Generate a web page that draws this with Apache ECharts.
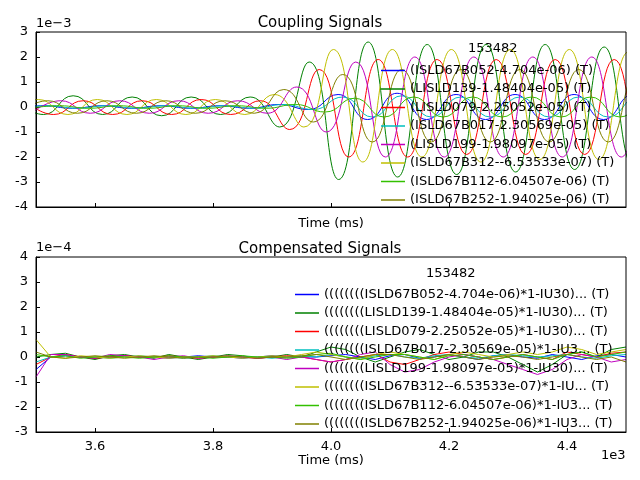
<!DOCTYPE html>
<html><head><meta charset="utf-8">
<script src="https://cdn.jsdelivr.net/npm/echarts@6/dist/echarts.min.js"></script>
<style>body{margin:0;background:#fff}#c{width:640px;height:480px}</style>
</head><body><div id="c"></div>
<script>
// 颜色 / 名称
var colors = ['#0000ff', '#008000', '#ff0000', '#00bfbf', '#bf00bf', '#bfbf00', '#33c000', '#808000'];
var topNames = [
  '(ISLD67B052-4.704e-06) (T)', '(LISLD139-1.48404e-05) (T)', '(LISLD079-2.25052e-05) (T)',
  '(ISLD67B017-2.30569e-05) (T)', '(LISLD199-1.98097e-05) (T)', '(ISLD67B312--6.53533e-07) (T)',
  '(ISLD67B112-6.04507e-06) (T)', '(ISLD67B252-1.94025e-06) (T)'
];
var botNames = [
  '((((((((ISLD67B052-4.704e-06)*1-IU30)... (T)', '((((((((LISLD139-1.48404e-05)*1-IU30)... (T)',
  '((((((((LISLD079-2.25052e-05)*1-IU30)... (T)', '((((((((ISLD67B017-2.30569e-05)*1-IU3... (T)',
  '((((((((LISLD199-1.98097e-05)*1-IU30)... (T)', '((((((((ISLD67B312--6.53533e-07)*1-IU... (T)',
  '((((((((ISLD67B112-6.04507e-06)*1-IU3... (T)', '((((((((ISLD67B252-1.94025e-06)*1-IU3... (T)'
];

// 上图: 每条曲线的极值点 (x1e-3), 从 topStart 开始每 50ms 一个
var topStart = [3462, 3463, 3480, 3470, 3492, 3454, 3490, 3470];
var topBlue   = [-0.05,0.05,-0.05,0.05,-0.05,0.05,-0.05,0.05,-0.05,0.1,-0.1,0.5,-0.5,0.55,-0.5,0.5,-0.5,0.5,-0.5,0.5,-0.5,0.5,-0.5];
var topGreen  = [0.3,-0.3,0.45,-0.3,0.4,-0.35,0.4,-0.3,0.4,-0.8,1.8,-2.9,2.6,-2.8,2.5,-2.7,2.5,-2.6,2.5,-2.5,2.4,-2.4,2.4];
var topRed    = [0.3,-0.3,0.25,-0.3,0.25,-0.3,0.3,-0.3,0.25,-0.9,1.5,-2.0,1.9,-2.0,1.9,-1.9,1.9,-1.9,1.9,-1.9,1.9,-1.9,1.9];
var topCyan   = [-0.05,0.05,-0.05,0.05,-0.05,0.05,-0.05,0.05,-0.05,0.1,-0.1,0.4,-0.4,0.45,-0.4,0.4,-0.4,0.4,-0.4,0.4,-0.4,0.4,-0.4];
var topMag    = [-0.25,0.25,-0.25,0.25,-0.25,0.25,-0.25,0.25,-0.25,0.8,-1.0,1.8,-2.0,2.0,-2.0,2.0,-2.0,2.0,-2.0,2.0,-2.0,2.0,-2.0];
var topYellow = [-0.3,0.3,-0.3,0.3,-0.3,0.3,-0.3,0.3,-0.3,0.5,-0.8,2.3,-2.2,2.3,-2.0,2.3,-2.2,2.3,-2.1,2.3,-2.1,2.2,-2.1];
var topLGreen = [-0.05,0.05,-0.05,0.05,-0.05,0.05,-0.05,0.05,-0.05,0.1,-0.2,0.35,-0.4,0.4,-0.4,0.4,-0.4,0.4,-0.4,0.4,-0.4,0.4,-0.4];
var topOlive  = [-0.25,0.25,-0.25,0.25,-0.25,0.25,-0.25,0.25,-0.25,0.7,-0.6,1.3,-1.4,1.5,-1.4,1.5,-1.4,1.5,-1.4,1.5,-1.4,1.5,-1.4];
var topVals = [topBlue, topGreen, topRed, topCyan, topMag, topYellow, topLGreen, topOlive];

// 下图: 3500..4500 每 25ms 一个点 (x1e-4)
var botTime = [];
for (var i = 0; i <= 40; i++) botTime.push(3500 + i * 25);
var botBlue   = [-0.5,0,0.05,0,-0.05,0,0.05,0,0,-0.05,0,0.05,0,0,-0.05,0,0.05,0,0,0,0.05,0.1,0,-0.1,0.05,0.1,-0.05,0,0.1,0,-0.1,0.05,0.1,0,-0.05,0.1,0,-0.1,0.05,0.1,0];
var botGreen  = [0,0.1,0.15,0,-0.1,0.05,0.1,0,-0.05,0.1,0,-0.1,0,0.1,0.05,-0.05,0,0.1,0,0.2,0.4,0.3,0,-0.2,0,0.2,0.3,0.1,-0.1,0,0.2,0.2,0,-0.3,-0.6,-0.3,0.1,0.2,0,0.3,0.4];
var botRed    = [-0.3,0,0.1,0,-0.05,0,0.05,0,0,0.05,0,-0.05,0,0,0,-0.05,0,0.05,0,-0.1,-0.2,-0.1,0,0.1,-0.2,-0.3,-0.1,0.1,0.2,0.1,0,-0.1,0,0.1,0,-0.1,0.2,0.1,0,0.15,0.2];
var botCyan   = [-0.2,0,0.05,0,0,-0.05,0,0.05,0,0,-0.05,0,0.05,0,0,0,-0.05,0,0.05,0,0.1,0,-0.05,0.05,0.1,0,-0.05,0.05,0.1,0,-0.05,0.05,0.1,0.05,0,0.05,0.1,0,-0.05,0.05,0.1];
var botMag    = [-0.8,0.1,0.1,0,-0.05,0.1,0.05,0,-0.1,0,0.05,-0.05,0,0.05,0,-0.05,0,-0.1,0,-0.1,-0.2,-0.1,0.1,0.2,-0.3,-0.6,-0.5,-0.2,0,0.1,0,-0.1,-0.3,-0.5,-0.7,-0.5,-0.1,0.1,0,-0.2,-0.1];
var botYellow = [0.7,0,-0.05,0.05,0,-0.05,0,0.05,0,-0.05,0,0,0.05,0,-0.05,0,0.05,0,0.1,0.2,0.1,0,-0.1,0.1,0.2,0.1,0,-0.1,0.1,0.2,0.1,0,0.1,0.2,0.1,0.2,0.4,0.3,0.1,0.2,0.3];
var botLGreen = [0.1,0,0.05,-0.05,0,0.05,0,-0.05,0,0.05,0,0,-0.05,0,0.05,0,0,-0.05,0,0.1,0.15,0,-0.1,0,0.1,0.1,0,-0.1,0.05,0.1,0,-0.1,0,0.1,0,-0.1,0.1,0.2,0,0.1,0.2];
var botOlive  = [0.2,0,-0.05,0,0.05,0,-0.05,0,0.05,0,-0.05,0,0,0.05,0,-0.05,0,0,0.05,0.1,0,-0.1,0,0.1,0.1,0,-0.1,0,0.1,0,-0.1,0,0.05,0,-0.1,0,0.1,0,-0.1,0,-0.2];
var botVals = [botBlue, botGreen, botRed, botCyan, botMag, botYellow, botLGreen, botOlive];

var ff = 'DejaVu Sans';
function xAxis(idx, showLabel) {
  return {
    type: 'value', gridIndex: idx, min: 3500, max: 4500,
    name: 'Time (ms)', nameLocation: 'middle', nameGap: showLabel ? 20 : 10,
    nameTextStyle: { color: '#000', fontSize: 13, fontFamily: ff },
    axisLine: { onZero: false, lineStyle: { color: '#000' } },
    axisTick: { show: true, inside: true, length: 4, customValues: [3600, 3800, 4000, 4200, 4400] },
    axisLabel: { show: showLabel, color: '#000', fontSize: 13, fontFamily: ff,
      customValues: [3600, 3800, 4000, 4200, 4400],
      formatter: function (v) { return (v / 1000).toFixed(1); } },
    splitLine: { show: false }
  };
}
function yAxis(idx, lo, hi) {
  return {
    type: 'value', gridIndex: idx, min: lo, max: hi, interval: 1,
    axisLine: { show: true, lineStyle: { color: '#000' } },
    axisTick: { inside: true, length: 4 },
    axisLabel: { color: '#000', fontSize: 13, fontFamily: ff },
    splitLine: { show: false }
  };
}

var series = [];
for (var k = 0; k < 8; k++) {
  var pts = [];
  for (var j = 0; j < topVals[k].length; j++) pts.push([topStart[k] + j * 50, topVals[k][j]]);
  series.push({ name: topNames[k], type: 'line', xAxisIndex: 0, yAxisIndex: 0, data: pts,
    smooth: 0.5, showSymbol: false, lineStyle: { width: 1, color: colors[k] }, itemStyle: { color: colors[k] }, clip: true });
}
for (var k = 0; k < 8; k++) {
  var pts2 = [];
  for (var j = 0; j < botTime.length; j++) pts2.push([botTime[j], botVals[k][j]]);
  series.push({ name: botNames[k], type: 'line', xAxisIndex: 1, yAxisIndex: 1, data: pts2,
    showSymbol: false, lineStyle: { width: 1, color: colors[k] }, itemStyle: { color: colors[k] } });
}

var legendBase = {
  orient: 'vertical', icon: 'rect', itemWidth: 24, itemHeight: 1.5, itemGap: 5.5,
  textStyle: { color: '#000', fontSize: 13, fontFamily: ff }, selectedMode: false
};
var myChart = echarts.init(document.getElementById('c'));
myChart.setOption({
  animation: false,
  title: [
    { text: 'Coupling Signals', left: 'center', top: 11, textStyle: { fontSize: 15, fontWeight: 'normal', fontFamily: ff, color: '#000' } },
    { text: 'Compensated Signals', left: 'center', top: 237, textStyle: { fontSize: 15, fontWeight: 'normal', fontFamily: ff, color: '#000' } }
  ],
  grid: [
    { left: 36, right: 14, top: 32, height: 175, containLabel: false },
    { left: 36, right: 14, top: 257, height: 175, containLabel: false }
  ],
  xAxis: [xAxis(0, false), xAxis(1, true)],
  yAxis: [yAxis(0, -4, 3), yAxis(1, -3, 4)],
  legend: [
    echarts.util.merge({ data: topNames, left: 376, top: 59 }, legendBase, true),
    echarts.util.merge({ data: botNames, left: 290, top: 283, itemGap: 4 }, legendBase, true)
  ],
  graphic: [
    { type: 'text', left: 36, top: 17, style: { text: '1e\u22123', fontSize: 13, fontFamily: ff, fill: '#000' } },
    { type: 'text', left: 36, top: 241, style: { text: '1e\u22124', fontSize: 13, fontFamily: ff, fill: '#000' } },
    { type: 'text', left: 601, top: 449, style: { text: '1e3', fontSize: 13, fontFamily: ff, fill: '#000' } },
    { type: 'text', left: 468, top: 42, style: { text: '153482', fontSize: 13, fontFamily: ff, fill: '#000' } },
    { type: 'text', left: 426, top: 267, style: { text: '153482', fontSize: 13, fontFamily: ff, fill: '#000' } },
    { type: 'rect', shape: { x: 36, y: 32, width: 590, height: 175 }, style: { fill: 'none', stroke: '#000', lineWidth: 1 }, z: 100 },
    { type: 'rect', shape: { x: 36, y: 257, width: 590, height: 175 }, style: { fill: 'none', stroke: '#000', lineWidth: 1 }, z: 100 }
  ],
  series: series
});
</script></body></html>
